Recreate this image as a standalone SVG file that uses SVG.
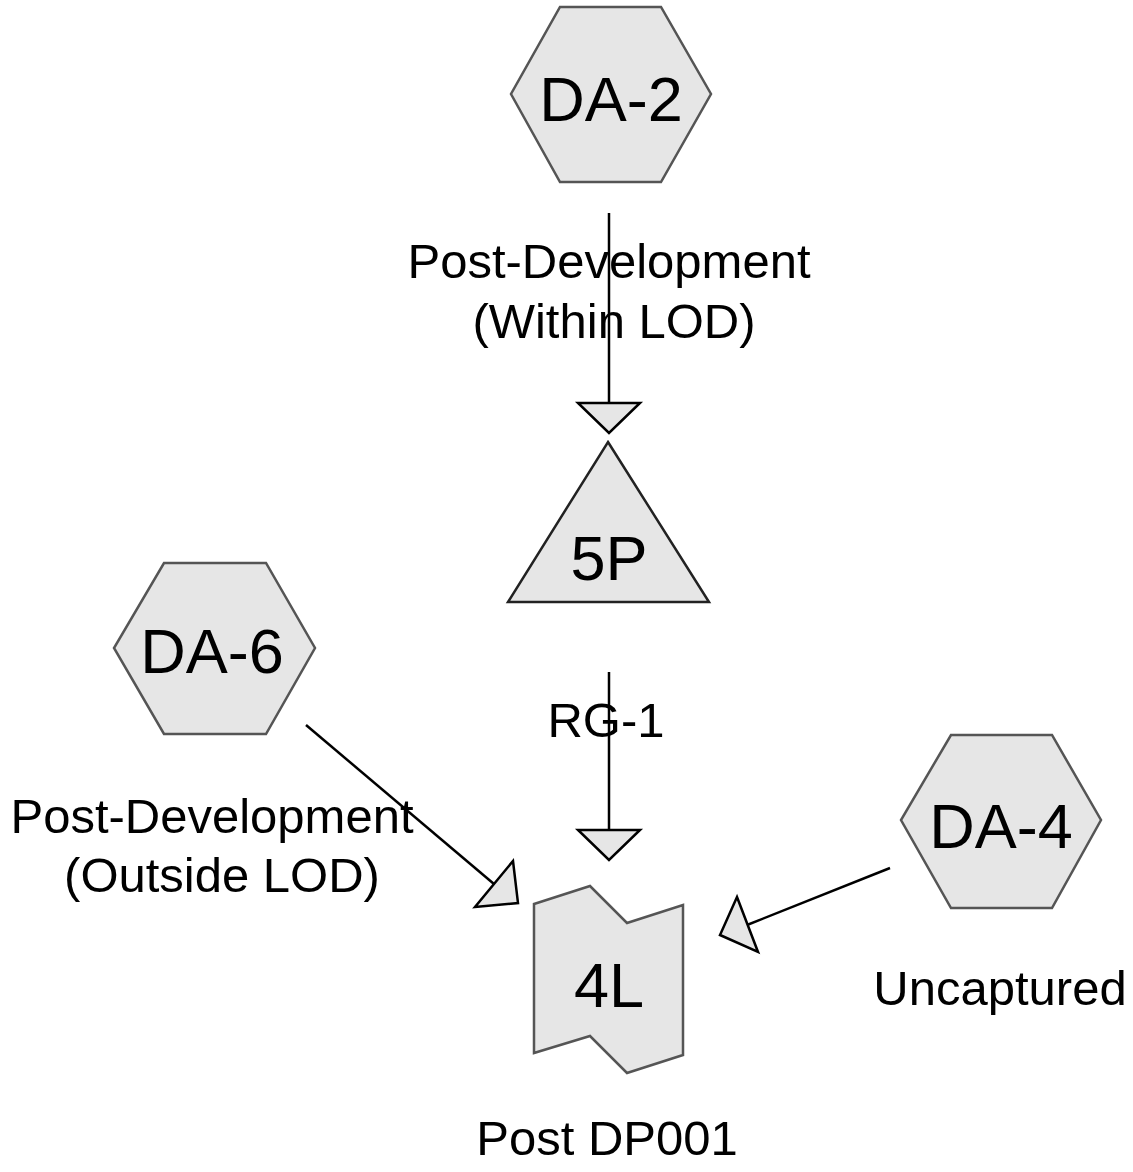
<svg xmlns="http://www.w3.org/2000/svg" width="1133" height="1172" viewBox="0 0 1133 1172">
  <style>
    .node { fill: #e6e6e6; stroke: #555555; stroke-width: 2.5; stroke-linejoin: miter; }
    .tri { fill: #e6e6e6; stroke: #222222; stroke-width: 2.5; }
    .name { font-family: "Liberation Sans", Arial, sans-serif; font-size: 63px; fill: #000000; text-anchor: middle; }
    .label { font-family: "Liberation Sans", Arial, sans-serif; font-size: 49px; fill: #000000; text-anchor: middle; }
    .edge { stroke: #000000; stroke-width: 2.5; fill: none; }
    .head { fill: #e6e6e6; stroke: #000000; stroke-width: 2.5; stroke-linejoin: miter; }
  </style>

  <rect width="1133" height="1172" fill="#ffffff"/>

  <!-- connectors, drawn under the nodes -->
  <g id="connectors">
    <g id="edge-da2-5p">
      <line class="edge" x1="609" y1="213" x2="609" y2="403"/>
      <polygon class="head" points="578,403 640,403 609,433"/>
    </g>
    <g id="edge-5p-4l">
      <line class="edge" x1="609" y1="672" x2="609" y2="830"/>
      <polygon class="head" points="578,830 640,830 609,860"/>
    </g>
    <g id="edge-da6-4l">
      <line class="edge" x1="306" y1="725" x2="494" y2="884"/>
      <polygon class="head" points="513,861 518,903 475,907"/>
    </g>
    <g id="edge-da4-4l">
      <line class="edge" x1="890" y1="868" x2="747" y2="925"/>
      <polygon class="head" points="737,897 758,952 720,935"/>
    </g>
  </g>

  <!-- connector labels -->
  <g id="edge-labels">
    <text class="label" x="609" y="278">Post-Development</text>
    <text class="label" x="614" y="338">(Within LOD)</text>
    <text class="label" x="212" y="833">Post-Development</text>
    <text class="label" x="222" y="892">(Outside LOD)</text>
    <text class="label" x="606" y="737">RG-1</text>
    <text class="label" x="1000" y="1005">Uncaptured</text>
  </g>

  <g id="node-da2">
    <polygon class="node" points="560,7 661,7 711,94 661,182 560,182 511,94"/>
    <text class="name" x="611" y="121">DA-2</text>
  </g>

  <g id="node-5p">
    <polygon class="tri" points="608,442 709,602 508,602"/>
    <text class="name" x="609" y="580">5P</text>
  </g>

  <g id="node-da6">
    <polygon class="node" points="164,563 266,563 315,648 266,734 164,734 114,648"/>
    <text class="name" x="212" y="673">DA-6</text>
  </g>

  <g id="node-da4">
    <polygon class="node" points="951,735 1052,735 1101,820 1052,908 951,908 901,820"/>
    <text class="name" x="1001" y="848">DA-4</text>
  </g>

  <g id="node-4l">
    <polygon class="node" points="534,904 590,886 627,923 683,905 683,1055 627,1073 590,1036 534,1053"/>
    <text class="name" x="609" y="1007">4L</text>
    <text class="label" x="607" y="1155">Post DP001</text>
  </g>
</svg>
